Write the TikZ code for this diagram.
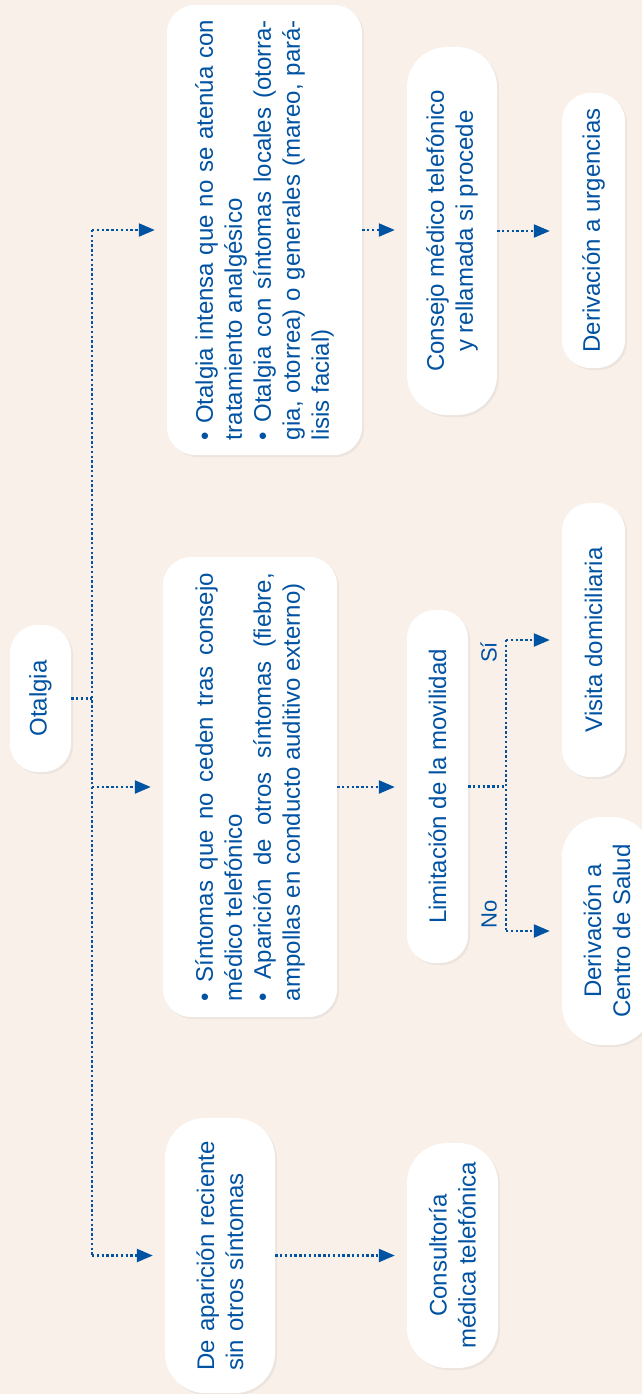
\documentclass[tikz,border=0pt]{standalone}
\usepackage{fontspec}
\setmainfont{Liberation Sans}
\usetikzlibrary{arrows.meta,shadows}
\definecolor{guideBlue}{RGB}{0,82,162}
\definecolor{guidePeach}{RGB}{249,240,233}
\tolerance=9000
\hyphenpenalty=10000

\begin{document}
\begin{tikzpicture}
[x=1pt,y=-1pt,
  boxDecorate/.style={shape=rectangle,rounded corners=28pt,fill=white,rotate=90,
    inner sep=0pt,text=guideBlue,font=\fontsize{24}{29}\selectfont,
    drop shadow={shadow xshift=2pt,shadow yshift=-2pt,opacity=0.10}},%
  lineDecorate/.style={guideBlue,line width=2.3pt,dash pattern=on 2.3pt off 2.5pt},%
  arrowDecorate/.style={lineDecorate,-{Triangle[length=16pt,width=13pt]},shorten >=12pt},%
  labelDecorate/.style={rotate=90,text=guideBlue,font=\fontsize{22}{26}\selectfont,
    inner xsep=1pt,inner ysep=8pt}]
\fill[guidePeach] (0,0) rectangle (642,1394);
\useasboundingbox (0,0) rectangle (642,1394);
%% one-line boxes
\foreach \nodename/\x/\y/\len/\wid/\txt in {
  otalgia/40.5/698.5/147/61/Otalgia, movilidad/437.5/786.5/353/61/Limitación de la movilidad,
  urgencias/593.5/230.5/275/63/Derivación a urgencias, visita/593.5/640/274/63/Visita domiciliaria}
{
  \node (\nodename) at (\x,\y) [boxDecorate,minimum width=\len pt,minimum height=\wid pt] {\txt};
}
%% boxes with more lines
\node (intensa) at (264.5,230) [boxDecorate,minimum width=450pt,minimum height=195pt,
  text width=420pt,align=justify]
  {\textbullet\ Otalgia intensa que no se atenúa con\linebreak tratamiento analgésico\\
   \textbullet\ Otalgia con síntomas locales (otorra-\linebreak gia, otorrea) o generales (mareo, pará-\linebreak lisis facial)};
\node (ceden) at (250,787) [boxDecorate,minimum width=460pt,minimum height=174pt,
  text width=428pt,align=justify]
  {\textbullet\ Síntomas que no ceden tras consejo\linebreak médico telefónico\\
   \textbullet\ Aparición de otros síntomas (fiebre,\linebreak ampollas en conducto auditivo externo)};
\node (reciente) at (220,1255.5) [boxDecorate,rounded corners=40pt,minimum width=275pt,
  minimum height=110pt,text width=230pt,align=left] {De aparición reciente\\sin otros síntomas};
\node (consejo) at (452,231) [boxDecorate,rounded corners=40pt,minimum width=368pt,
  minimum height=90pt,align=center] {Consejo médico telefónico\\y rellamada si procede};
\node (consultoria) at (452.5,1255.5) [boxDecorate,rounded corners=40pt,minimum width=225pt,
  minimum height=91pt,align=center] {Consultoría\\médica telefónica};
\node (centro) at (607,931) [boxDecorate,rounded corners=40pt,minimum width=228pt,
  minimum height=90pt,align=center] {Derivación a\\Centro de Salud};
%% edges or lines
\coordinate (spine) at (92,0);
\coordinate (fork) at (506,0);
\draw[lineDecorate] (otalgia.south) -- (spine |- otalgia.south);
\draw[lineDecorate] (spine |- intensa.north) -- (spine |- reciente.north);
\path
\foreach \endnode in {intensa, ceden, reciente}
{
  (spine |- \endnode.north) edge[arrowDecorate] (\endnode.north)
};
\path
\foreach \startnode/\endnode in {intensa/consejo, consejo/urgencias, ceden/movilidad, reciente/consultoria}
{
  (\startnode.south) edge[arrowDecorate] (\endnode.north |- \startnode.south)
};
\draw[lineDecorate] (movilidad.south) -- (fork |- movilidad.south);
\draw[lineDecorate] (fork |- visita.north) node[labelDecorate,anchor=south east] {Sí}
  -- (fork |- centro.north) node[labelDecorate,anchor=south west] {No};
\draw[arrowDecorate] (fork |- visita.north) -- (visita.north);
\draw[arrowDecorate] (fork |- centro.north) -- (centro.north);
\end{tikzpicture}
\end{document}
